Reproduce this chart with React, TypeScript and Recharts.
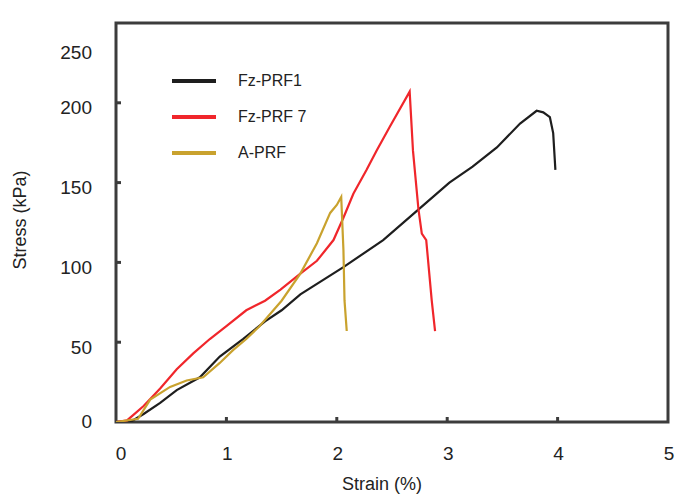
import React from 'react';
import {
  LineChart, Line, XAxis, YAxis, Legend, ReferenceArea
} from 'recharts';

const FONT = '"Liberation Sans", Arial, sans-serif';
const PLOT_LEFT = 116;
const PLOT_BOTTOM = 422;

const seriesNames = ['Fz-PRF1', 'Fz-PRF 7', 'A-PRF'];
const xTicks = [0, 1, 2, 3, 4, 5];
const yTicks = [0, 50, 100, 150, 200, 250];

// Fz-PRF1 (black)
const fz1Strain = [0, 0.13, 0.25, 0.4, 0.55, 0.76, 0.94, 1.15, 1.35, 1.5, 1.67, 2.06, 2.42, 2.72, 3.02, 3.23, 3.45, 3.66, 3.81, 3.87, 3.93, 3.96, 3.98];
const fz1Stress = [0, 0, 5, 12, 20, 28, 41, 52, 63, 70, 80, 97, 114, 132, 150, 160, 172, 187, 195, 194, 191, 181, 158];

// Fz-PRF 7 (red)
const fz7Strain = [0, 0.1, 0.15, 0.25, 0.4, 0.55, 0.7, 0.85, 1.0, 1.18, 1.35, 1.49, 1.67, 1.82, 1.97, 2.06, 2.15, 2.27, 2.36, 2.48, 2.66, 2.69, 2.74, 2.77, 2.81, 2.86, 2.89];
const fz7Stress = [0, 1, 4, 10, 21, 33, 43, 52, 60, 70, 76, 83, 93, 101, 114, 128, 143, 158, 170, 185, 207, 170, 133, 118, 114, 76, 57];

// A-PRF (gold)
const aStrain = [0, 0.2, 0.31, 0.49, 0.64, 0.79, 0.94, 1.06, 1.18, 1.3, 1.5, 1.67, 1.82, 1.94, 2.0, 2.04, 2.06, 2.07, 2.09];
const aStress = [0, 2, 14, 22, 26, 28, 37, 45, 52, 60, 76, 93, 112, 131, 136, 141, 108, 76, 57];

const zip = (xs: number[], ys: number[]) => xs.map((x, i) => ({ x, y: ys[i] }));

const fz1Data = zip(fz1Strain, fz1Stress);
const fz7Data = zip(fz7Strain, fz7Stress);
const aData = zip(aStrain, aStress);

const YTick = ({ y, payload }: any) => {
  const v = payload.value;
  const dy = v === 250 ? 29 : v === 0 ? -1 : 5;
  return (
    <g>
      {v > 0 && v < 250 && (
        <line x1={PLOT_LEFT} x2={PLOT_LEFT + 5} y1={y} y2={y} stroke="#3c3c3c" strokeWidth={3} />
      )}
      <text x={92} y={y + dy} textAnchor="end" dominantBaseline="central"
        fontSize={19} fontFamily={FONT} fill="#222">{v}</text>
    </g>
  );
};

const XTick = ({ x, payload }: any) => {
  const v = payload.value;
  return (
    <g>
      {v > 0 && v < 5 && (
        <line x1={x} x2={x} y1={PLOT_BOTTOM} y2={PLOT_BOTTOM - 5} stroke="#3c3c3c" strokeWidth={3} />
      )}
      <text x={v === 0 ? x + 5 : x + 1} y={453} textAnchor="middle" dominantBaseline="central"
        fontSize={19} fontFamily={FONT} fill="#222">{v}</text>
    </g>
  );
};

const YLabel = () => (
  <text x={20} y={220} transform="rotate(-90, 20, 220)" textAnchor="middle" dominantBaseline="central"
    fontSize={18} fontFamily={FONT} fill="#222">Stress (kPa)</text>
);

const XLabel = () => (
  <text x={382} y={484} textAnchor="middle" dominantBaseline="central"
    fontSize={18} fontFamily={FONT} fill="#222">Strain (%)</text>
);

const LegendBox = ({ payload }: any) => {
  const items = [...(payload || [])].sort(
    (a: any, b: any) => seriesNames.indexOf(a.value) - seriesNames.indexOf(b.value)
  );
  return (
    <div style={{ fontFamily: FONT }}>
      {items.map((entry: any, i: number) => (
        <div key={i} style={{ display: 'flex', alignItems: 'center', height: 36 }}>
          <svg width={44} height={6}>
            <line x1={0} x2={44} y1={3} y2={3} stroke={entry.color} strokeWidth={4} />
          </svg>
          <span style={{ marginLeft: 22, fontSize: 16, color: '#222' }}>{entry.value}</span>
        </div>
      ))}
    </div>
  );
};

export default function App() {
  return (
    <div style={{ position: 'absolute', left: 0, top: 0, width: 694, height: 496, background: '#fff' }}>
      <LineChart width={694} height={496} margin={{ top: 23, right: 26, left: 0, bottom: 0 }}>
        <XAxis
          type="number"
          dataKey="x"
          domain={[0, 5]}
          ticks={xTicks}
          allowDataOverflow
          height={74}
          axisLine={false}
          tickLine={false}
          tick={<XTick />}
          label={<XLabel />}
        />
        <YAxis
          type="number"
          domain={[0, 250]}
          ticks={yTicks}
          allowDataOverflow
          width={116}
          axisLine={false}
          tickLine={false}
          tick={<YTick />}
          label={<YLabel />}
        />
        <ReferenceArea x1={0} x2={5} y1={0} y2={250} fill="none" stroke="#3c3c3c" strokeWidth={3} />
        <Legend
          content={<LegendBox />}
          layout="vertical"
          verticalAlign="middle"
          align="center"
          wrapperStyle={{ left: 172, top: 63, width: 200 }}
        />
        <Line data={fz1Data} dataKey="y" name="Fz-PRF1" type="linear" stroke="#1e1e1e"
          strokeWidth={2.2} dot={false} isAnimationActive={false} />
        <Line data={fz7Data} dataKey="y" name="Fz-PRF 7" type="linear" stroke="#f0262b"
          strokeWidth={2.2} dot={false} isAnimationActive={false} />
        <Line data={aData} dataKey="y" name="A-PRF" type="linear" stroke="#c9a22e"
          strokeWidth={2.2} dot={false} isAnimationActive={false} />
      </LineChart>
    </div>
  );
}
